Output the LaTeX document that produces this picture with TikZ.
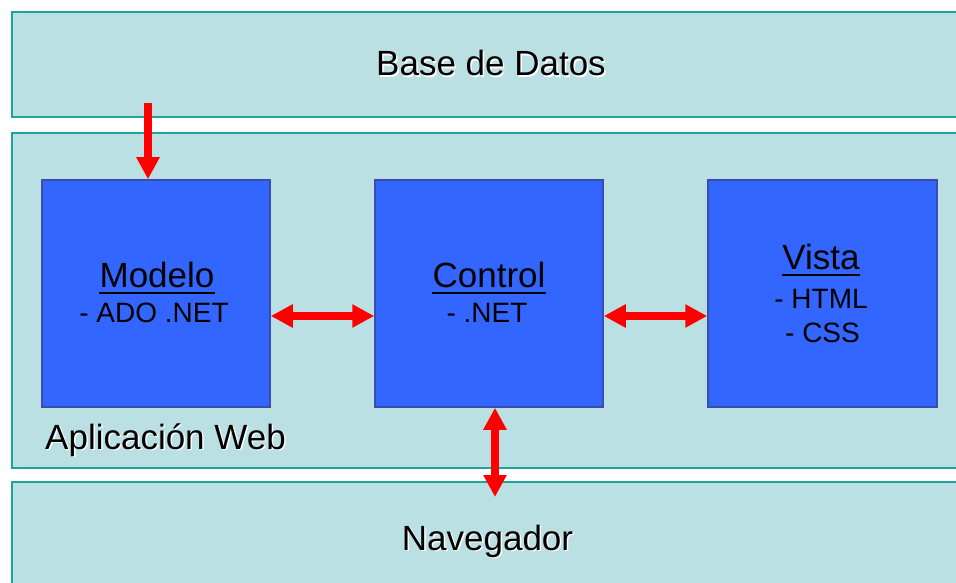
\documentclass[tikz,border=0pt]{standalone}
\usepackage{fontspec}
\setmainfont{Liberation Sans}
\usetikzlibrary{arrows.meta}

\definecolor{bandfill}{HTML}{BBE0E3}
\definecolor{bandline}{HTML}{1FA39B}
\definecolor{boxfill}{HTML}{3366FF}
\definecolor{boxline}{HTML}{3A4DAE}
\definecolor{arrowred}{HTML}{FF0000}

\tikzset{
  band/.style={draw=bandline, fill=bandfill, line width=2pt},
  layerbox/.style={draw=boxline, fill=boxfill, line width=1.5pt},
  bigtxt/.style={inner sep=0pt, anchor=base, font=\fontsize{35}{42}\selectfont},
  smalltxt/.style={inner sep=0pt, anchor=base, font=\fontsize{28}{34}\selectfont},
  shadowtxt/.style={bigtxt, text=white},
  flow/.style={draw=arrowred, line width=8pt, -{Triangle[width=22pt,length=22pt]}},
  flowboth/.style={draw=arrowred, line width=8pt, {Triangle[width=22pt,length=22pt]}-{Triangle[width=22pt,length=22pt]}},
  uline/.style={line width=2pt}
}

\begin{document}
\begin{tikzpicture}[x=1pt, y=-1pt]
  \useasboundingbox (0,0) rectangle (956,583);

  % horizontal layers
  \path[band] (12,12) rectangle (966,117);
  \path[band] (12,133) rectangle (966,468);
  \path[band] (12,482) rectangle (966,600);

  % components of the web application
  \node[layerbox, minimum width=228pt, minimum height=227pt, inner sep=0pt] (modelo) at (156,293.5) {};
  \node[layerbox, minimum width=228pt, minimum height=227pt, inner sep=0pt] (control) at (489,293.5) {};
  \node[layerbox, minimum width=229pt, minimum height=227pt, inner sep=0pt] (vista) at (822.5,293.5) {};

  % layer captions with a light embossed shadow
  \node[shadowtxt] at (492.5,77.5) {Base de Datos};
  \node[bigtxt] (db) at (491,76) {Base de Datos};
  \node[shadowtxt, anchor=base west] at (46.5,450.5) {Aplicación Web};
  \node[bigtxt, anchor=base west] (app) at (45,449) {Aplicación Web};
  \node[shadowtxt] at (489,551.5) {Navegador};
  \node[bigtxt] (nav) at (487.5,550) {Navegador};

  % component titles and technologies
  \node[bigtxt] (mt) at (157,287) {Modelo};
  \draw[uline] ([yshift=-6pt]mt.base west) -- ([yshift=-6pt]mt.base east);
  \node[smalltxt] (ms) at (154,322.5) {- ADO .NET};

  \node[bigtxt] (ct) at (489,287) {Control};
  \draw[uline] ([yshift=-6pt]ct.base west) -- ([yshift=-6pt]ct.base east);
  \node[smalltxt] (cs) at (487,322.5) {- .NET};

  \node[bigtxt] (vt) at (821,269.5) {Vista};
  \draw[uline] ([yshift=-5pt]vt.base west) -- ([yshift=-5pt]vt.base east);
  \node[smalltxt] (vs1) at (821,308) {- HTML};
  \node[smalltxt] (vs2) at (822.5,342) {- CSS};

  % data flow
  \coordinate (dbtail) at (148,103);
  \draw[flow] (dbtail) -- (dbtail |- modelo.north);

  \coordinate (mclevel) at (0,316);
  \draw[flowboth] (modelo.east |- mclevel) -- (control.west |- mclevel);
  \draw[flowboth] (control.east |- mclevel) -- (vista.west |- mclevel);

  \coordinate (navtip) at (495,497);
  \draw[flowboth] (navtip |- control.south) -- (navtip);
\end{tikzpicture}
\end{document}
